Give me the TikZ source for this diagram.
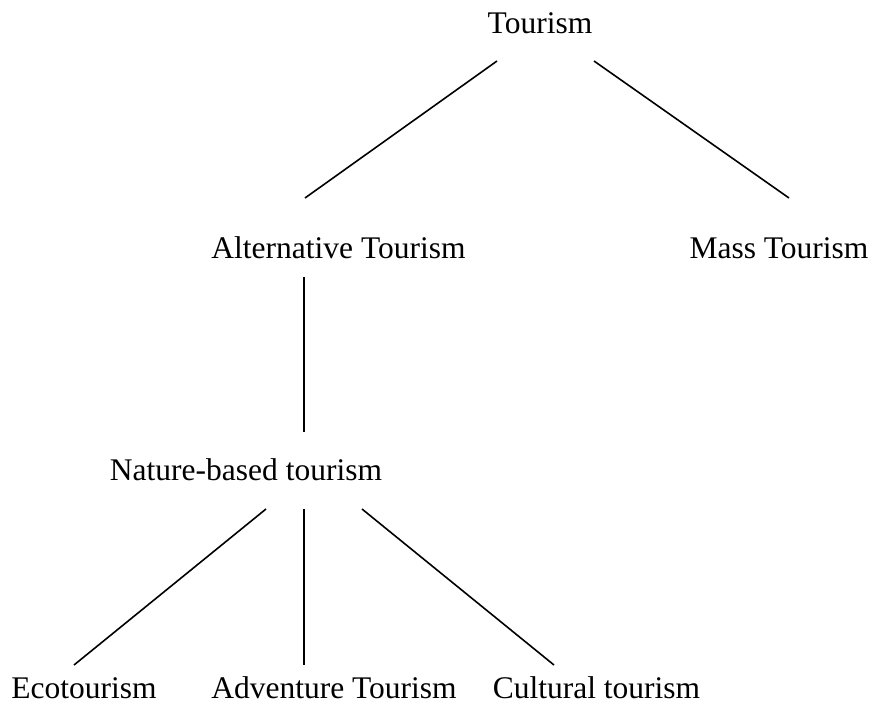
\documentclass[tikz,border=0pt]{standalone}
\usepackage{fontspec}
\setmainfont{Liberation Serif}
\usetikzlibrary{calc}
\begin{document}
\begin{tikzpicture}[x=1pt,y=-1pt,
  lbl/.style={anchor=base,inner sep=0pt,font=\fontsize{31.5}{36}\selectfont},
  conn/.style={line width=1.6pt}]
\useasboundingbox (0,0) rectangle (876,705);
\node[lbl] (t) at (540,33) {Tourism};
\node[lbl] (alt) at (338.5,258) {Alternative Tourism};
\node[lbl] (mass) at (779,258) {Mass Tourism};
\node[lbl] (nat) at (246,480) {Nature-based tourism};
\node[lbl] (eco) at (84,698) {Ecotourism};
\node[lbl] (adv) at (334,698) {Adventure Tourism};
\node[lbl] (cult) at (596.5,698) {Cultural tourism};
\draw[conn] ($(t.base)+(-43,28)$) -- ($(alt.base)+(-33.5,-60)$);
\draw[conn] ($(t.base)+(54,28)$) -- ($(mass.base)+(10,-60)$);
\draw[conn] ($(alt.base)+(-34.5,19)$) -- ($(nat.base)+(58,-48)$);
\draw[conn] ($(nat.base)+(20,29)$) -- ($(eco.base)+(-10,-33)$);
\draw[conn] ($(nat.base)+(58,29)$) -- ($(adv.base)+(-30,-33)$);
\draw[conn] ($(nat.base)+(116,29)$) -- ($(cult.base)+(-42.5,-33)$);
\end{tikzpicture}
\end{document}
